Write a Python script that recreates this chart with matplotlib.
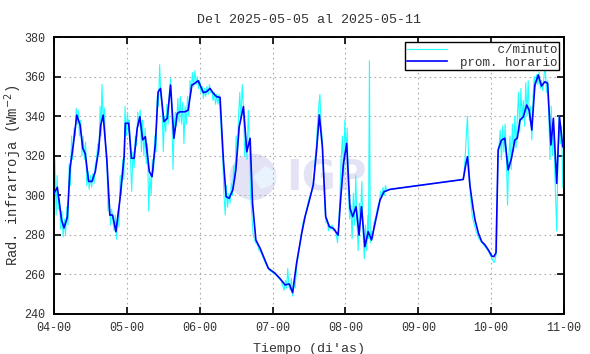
import matplotlib
matplotlib.use("Agg")
import matplotlib.pyplot as plt
from matplotlib.patches import Ellipse, Wedge

# ---- datos (horas desde 04-00) ----
hora_prom = [0, 1.1, 2.5, 3.3, 4.4, 5.3, 6.4, 7.5, 8.6, 9.5, 10.3, 11.4, 12.5, 13.6, 14.7,
             15.4, 16.2, 17.4, 18.4, 19.3, 20.4, 21.7, 23.1, 23.5, 24.6, 25.5, 26.4, 27.4,
             28.3, 29.2, 30.1, 31.4, 32.3, 33.4, 34.3, 35.1, 36.2, 37.3, 38.4, 39.5, 40.6,
             41.5, 43.1, 44.2, 45.4, 46.4, 47.5, 49.2, 50.3, 51.4, 52.5, 53.6, 54.7, 55.8,
             56.7, 57.7, 58.9, 59.9, 61.0, 62.4, 63.5, 64.6, 65.4, 66.5, 67.9, 69.5, 70.6,
             72.8, 74.4, 76.1, 77.5, 78.6, 79.9, 81.6, 82.7, 84.3, 85.4, 86.5, 87.4, 88.4,
             89.5, 90.7, 92.0, 93.6, 94.4, 95.3, 96.4, 97.5, 98.4, 99.5, 100.5, 101.3,
             102.4, 103.5, 104.6, 106.1, 107.4, 108.7, 110.7, 134.8, 135.7, 136.2, 137.0,
             138.1, 138.7, 139.8, 140.9, 142.0, 143.1, 144.2, 144.9, 145.6, 146.3, 147.4,
             148.5, 149.6, 150.7, 151.8, 152.6, 153.5, 154.6, 155.7, 156.5, 157.4, 158.4,
             159.5, 160.6, 161.7, 162.6, 163.7, 164.5, 165.6, 166.5, 167.6, 168.0]
rad_prom = [301, 304, 287.5, 283.5, 289, 314, 326, 340.5, 335.5, 323.7, 321, 307, 307, 312, 323,
            335.5, 340.5, 318, 290, 290, 281.6, 297.6, 319.5, 336.4, 336.4, 318.7, 318.7, 333.8,
            339.7, 328, 329.6, 312, 309.4, 326.2, 352.3, 354, 337.2, 338.9, 355.7, 328.8, 341.4,
            342.2, 342.2, 343, 355.7, 356.6, 357.9, 351.9, 352.4, 354, 351.5, 349.8, 349.5, 317.8,
            299.3, 298.5, 302.7, 312.8, 334.6, 344.8, 322, 328.8, 296, 277.4, 273.2, 267.3, 263.1,
            260.6, 258, 254.7, 255.2, 250.8, 265.6, 280.8, 289.2, 298.5, 305.2, 322.9, 340.6, 324.5,
            289.2, 284.1, 283.3, 279.9, 297.6, 315.3, 326.2, 293.4, 289.2, 294.2, 279.9, 294.2,
            274, 281.6, 277.4, 288.4, 297.6, 301.8, 303, 308, 316, 319.5, 305,
            293, 287.5, 280.8, 276.6, 274.9, 272.3, 269.3, 269, 271, 322.9, 327.9,
            328.8, 312.8, 318.7, 327.9, 328.8, 338, 339.7, 345.6, 343.1, 333, 355.7,
            360.8, 355.2, 357.4, 356.6, 325.4, 338.9, 306, 339.7, 324.5, 327]

hora_min = [0, 0.3, 0.7, 1.0, 1.4, 1.8, 2.2, 2.6, 3.0, 3.4, 3.8, 4.2, 4.6, 5.0, 5.4, 5.8, 6.2,
            6.6, 7.0, 7.3, 7.7, 8.0, 8.4, 8.8, 9.2, 9.6, 10.0, 10.4, 10.8, 11.2, 11.6, 12.0,
            12.4, 12.8, 13.2, 13.6, 14.0, 14.4, 14.8, 15.2, 15.5, 15.8, 16.2, 16.6, 17.0, 17.4,
            17.8, 18.2, 18.6, 19.0, 19.4, 19.8, 20.2, 20.6, 21.0, 21.4, 21.8, 22.2, 22.6, 23.0,
            23.4, 23.8, 24.2, 24.6, 24.8, 25.2, 25.6, 26.0, 26.4, 26.8, 27.2, 27.6, 28.0, 28.4,
            28.8, 29.2, 29.6, 30.0, 30.4, 30.8, 31.2, 31.6, 32.0, 32.4, 32.8, 33.2, 33.6, 34.0,
            34.4, 34.8, 35.2, 35.6, 36.0, 36.4, 36.8, 37.2, 37.6, 38.0, 38.4, 38.8, 39.2, 39.6,
            40.0, 40.4, 40.8, 41.2, 41.6, 42.0, 42.4, 42.8, 43.2, 43.6, 44.0, 44.4, 44.8, 45.2,
            45.6, 46.0, 46.4, 46.8, 47.2, 47.6, 48.0, 48.4, 48.8, 49.2, 49.6, 50.0, 50.4, 50.8,
            51.2, 51.6, 52.0, 52.4, 52.8, 53.2, 53.6, 54.0, 54.4, 54.8, 55.2, 55.6, 56.0, 56.4,
            56.8, 57.2, 57.6, 58.0, 58.4, 58.8, 59.2, 59.6, 60.0, 60.4, 60.8, 61.2, 61.6, 62.0,
            62.4, 62.8, 63.2, 63.6, 64.0, 64.4, 64.8, 65.2, 65.6, 66.0, 66.4, 67.0, 67.6, 68.2,
            69.0, 69.6, 70.2, 71.0, 72.0, 73.0, 74.0, 74.8, 75.4, 75.8, 76.2, 76.6, 77.0, 77.4,
            77.8, 78.2, 78.6, 79.0, 79.4, 80.0, 81.0, 82.0, 83.0, 84.0, 85.0, 85.6, 86.0, 86.4,
            86.8, 87.2, 87.6, 88.0, 88.4, 88.8, 89.2, 89.6, 90.0, 90.4, 90.8, 91.2, 91.6, 92.0,
            92.6, 93.0, 93.4, 93.8, 94.2, 94.6, 95.0, 95.4, 95.8, 96.2, 96.6, 97.0, 97.4, 97.8,
            98.2, 98.6, 99.0, 99.4, 99.8, 100.2, 100.6, 101.0, 101.4, 101.8, 102.2, 102.6, 103.0,
            103.4, 103.6, 103.9, 104.2, 104.6, 105.0, 105.4, 106.0, 106.6, 107.2, 107.6, 108.0,
            108.4, 108.8, 109.2, 109.6, 110.2, 110.7, 134.8, 135.0, 135.4, 135.8, 136.2, 136.5,
            136.8, 137.2, 137.6, 138.0, 139.0, 140.0, 141.0, 142.0, 143.0, 144.0, 144.6, 145.0,
            145.4, 145.8, 146.2, 146.6, 147.0, 147.4, 147.8, 148.2, 148.6, 149.0, 149.4, 149.8,
            150.2, 150.6, 151.0, 151.4, 151.8, 152.2, 152.6, 153.0, 153.4, 153.8, 154.2, 154.6,
            155.0, 155.4, 155.8, 156.2, 156.6, 157.0, 157.4, 157.8, 158.2, 158.6, 159.0, 159.4,
            159.8, 160.2, 160.6, 161.0, 161.4, 161.8, 162.2, 162.6, 163.0, 163.4, 163.8, 164.2,
            164.6, 165.0, 165.4, 165.6, 166.0, 166.4, 166.8, 167.2, 167.6, 168.0]
rad_min = [295, 318, 290, 310, 293, 298, 283, 292, 279, 288, 280, 294, 285, 316, 305, 330, 318,
           334, 330, 344, 336, 343, 330, 338, 320, 330, 318, 327, 305, 312, 303, 310,
           304, 311, 306, 316, 318, 326, 320, 345, 330, 356, 338, 344, 325, 320,
           292, 298, 285, 293, 287, 282, 290, 278, 292, 284, 310, 300, 318, 308,
           345, 330, 342, 332, 338, 318, 302, 322, 314, 330, 325, 342, 335, 343,
           322, 338, 320, 334, 316, 326, 292, 310, 300, 318, 312, 330, 322, 350,
           345, 366, 350, 345, 322, 340, 332, 346, 336, 352, 359, 345, 313, 335,
           342, 335, 349, 337, 350, 336, 347, 326, 345, 336, 350, 340, 358, 352,
           362, 355, 363, 356, 360, 354, 358, 352, 355, 349, 354, 350, 355, 351,
           356, 352, 353, 348, 352, 346, 351, 346, 351, 340, 330, 318, 300, 290,
           305, 294, 301, 296, 306, 300, 315, 308, 330, 320, 340, 352, 338, 356,
           345, 320, 330, 318, 343, 325, 300, 290, 280, 278, 276, 275, 272, 271,
           268, 266, 264, 262, 261, 260, 258, 257, 254, 252, 257, 253, 263, 254,
           252, 258, 249, 256, 253, 265, 275, 286, 291, 298, 303, 308, 318, 325,
           336, 345, 351, 335, 328, 310, 295, 286, 288, 282, 285, 283, 285, 282,
           283, 280, 276, 285, 300, 318, 330, 310, 338, 322, 334, 300, 288, 295,
           278, 301, 285, 310, 288, 272, 296, 290, 307, 282, 268, 285, 272,
           290, 278, 368, 276, 282, 278, 286, 289, 294, 297, 302, 299,
           304, 300, 305, 302, 303, 303, 308, 310, 318, 330, 340, 322,
           312, 300, 292, 288, 282, 278, 276, 274, 272, 269, 267, 266,
           268, 272, 318, 325, 333, 318, 335, 322, 336, 320, 295, 318,
           330, 313, 336, 322, 340, 324, 338, 352, 332, 354, 338, 348,
           335, 357, 340, 358, 338, 345, 328, 350, 360, 355, 361, 356,
           362, 354, 358, 353, 360, 366, 352, 358, 340, 318, 345, 320,
           332, 310, 292, 282, 318, 340, 326, 335, 304, 330]

dias = ["04-00", "05-00", "06-00", "07-00", "08-00", "09-00", "10-00", "11-00"]
y_ticks = [240, 260, 280, 300, 320, 340, 360, 380]

plt.rcParams["font.family"] = ["Liberation Mono", "DejaVu Sans Mono"]
plt.rcParams["font.size"] = 8.5

fig = plt.figure(figsize=(5.9, 3.54), dpi=100)
ax = fig.add_axes([54 / 590, 1 - 314 / 354, 510 / 590, 277 / 354])

# marca de agua (logo IGP)
ax.add_patch(Ellipse((0.39, 0.495), 0.092, 0.168, transform=ax.transAxes,
                     facecolor="#e3e3f5", edgecolor="none", zorder=0))
ax.add_patch(Wedge((0.39, 0.495), 0.046, -70, 60, transform=ax.transAxes,
                   facecolor="#e8f3fd", edgecolor="none", zorder=0))
ax.text(0.455, 0.49, "IGP", transform=ax.transAxes, fontsize=30, fontweight="bold",
        family="DejaVu Sans", color="#e3e3f5", ha="left", va="center", zorder=0)

ax.plot(hora_min, rad_min, color="#20ffff", lw=0.8, label="     c/minuto", zorder=2)
ax.plot(hora_prom, rad_prom, color="#0000ff", lw=1.2, label="prom. horario", zorder=3)

ax.set_xlim(0, 168)
ax.set_ylim(240, 380)
ax.set_xticks([24 * i for i in range(len(dias))])
ax.set_xticklabels(dias, color="#333333")
ax.set_yticks(y_ticks)
ax.set_yticklabels([str(v) for v in y_ticks], color="#333333")
ax.tick_params(direction="in", length=5, width=1.2, top=True, right=True, pad=6)
ax.grid(True, color="#aaaaaa", linestyle=(0, (1.5, 3)), lw=0.8)
for s in ax.spines.values():
    s.set_linewidth(1.4)

ax.set_title("Del 2025-05-05 al 2025-05-11", color="#333333", fontsize=9.6, pad=10)
ax.set_xlabel("Tiempo (di'as)", color="#333333", fontsize=9.6, labelpad=6)
ax.set_ylabel("Rad. infrarroja (Wm$^{-2}$)", color="#333333", fontsize=10)
ax.yaxis.set_label_coords(-0.058, 0.5)

leg = ax.legend(loc="upper right", fancybox=False, framealpha=1, edgecolor="black",
                borderpad=0.15, handlelength=3.2, handletextpad=1.0, labelspacing=0.05,
                borderaxespad=0.4, fontsize=9)
leg.get_frame().set_linewidth(1.0)
for t in leg.get_texts():
    t.set_color("#333333")

fig.savefig("out.png", dpi=100)
